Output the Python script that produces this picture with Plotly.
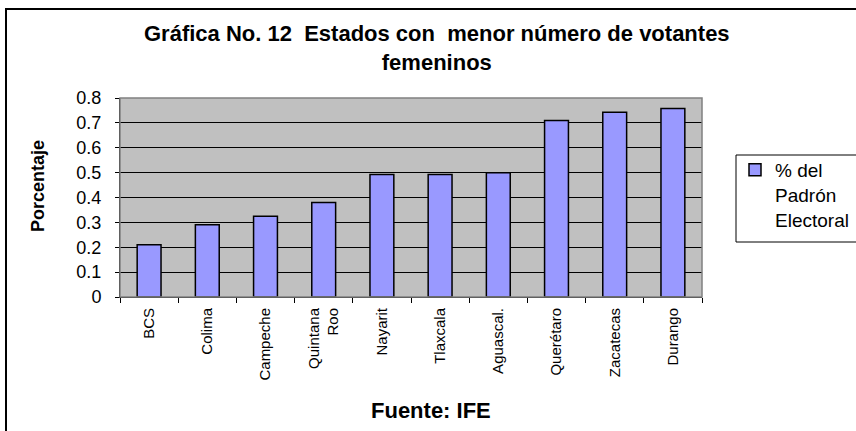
import plotly.graph_objects as go

categories = ["BCS", "Colima", "Campeche", "Quintana<br>Roo", "Nayarit", "Tlaxcala",
              "Aguascal.", "Querétaro", "Zacatecas", "Durango"]
values = [0.21, 0.29, 0.325, 0.38, 0.492, 0.492, 0.50, 0.71, 0.743, 0.758]
series_name = "% del<br>Padrón<br>Electoral"
y_ticks = [0, 0.1, 0.2, 0.3, 0.4, 0.5, 0.6, 0.7, 0.8]

W, H = 856, 431
L, R, T, B = 120, 702, 98, 297


def px(x):
    return (x - L) / (R - L)


def py(y):
    return (B - y) / (B - T)


FONT = "Arial, Liberation Sans, sans-serif"

fig = go.Figure()
fig.add_trace(go.Bar(
    x=categories, y=values, name=series_name,
    marker=dict(color="#9999FF", line=dict(color="#000000", width=1.5)),
    showlegend=True,
))

fig.update_layout(
    width=W, height=H,
    margin=dict(l=L, r=W - R, t=T, b=H - B, pad=0, autoexpand=False),
    paper_bgcolor="white",
    plot_bgcolor="#C0C0C0",
    bargap=0.59,
    font=dict(family=FONT, color="black"),
    showlegend=True,
    legend=dict(x=px(735), y=py(151), xanchor="left", yanchor="top",
                bgcolor="rgba(0,0,0,0)", borderwidth=0,
                font=dict(size=19, family=FONT), valign="top",
                itemwidth=30, tracegroupgap=0),
    xaxis=dict(type="category", showline=True, linecolor="black", linewidth=1,
               ticks="outside", ticklen=5, tickcolor="black", tickson="boundaries",
               tickangle=-90, tickfont=dict(size=15, family=FONT),
               ticklabelstandoff=4,
               showgrid=False, fixedrange=True),
    yaxis=dict(range=[0, 0.8], tickvals=y_ticks, showline=True, linecolor="black",
               linewidth=1, ticks="outside", ticklen=4, tickcolor="black",
               tickfont=dict(size=18, family=FONT), showgrid=True,
               ticklabelstandoff=10,
               gridcolor="#000000", gridwidth=1, zeroline=False, fixedrange=True),
    shapes=[
        # plot frame (top/right gray)
        dict(type="rect", xref="paper", yref="paper", x0=0, x1=1, y0=0, y1=1,
             line=dict(color="#808080", width=1.5), layer="above"),
        # outer chart border
        dict(type="rect", xref="paper", yref="paper", x0=px(6), x1=px(900),
             y0=py(470), y1=py(9), line=dict(color="#000000", width=2)),
        # legend border
        dict(type="rect", xref="paper", yref="paper", x0=px(736), x1=px(880),
             y0=py(242), y1=py(155), line=dict(color="#000000", width=1)),
    ],
    annotations=[
        dict(text="<b>Gráfica No. 12  Estados con  menor número de votantes<br>femeninos</b>",
             xref="paper", yref="paper", x=px(436.5), y=py(48), xanchor="center",
             yanchor="middle", showarrow=False, font=dict(size=22, family=FONT)),
        dict(text="<b>Porcentaje</b>", xref="paper", yref="paper", x=px(38), y=py(186),
             xanchor="center", yanchor="middle", textangle=-90, showarrow=False,
             font=dict(size=18, family=FONT)),
        dict(text="<b>Fuente: IFE</b>", xref="paper", yref="paper", x=px(431), y=py(410),
             xanchor="center", yanchor="middle", showarrow=False,
             font=dict(size=22, family=FONT)),
    ],
)

fig.write_html("out.html", config={"displayModeBar": False},
               post_script="document.body.style.margin='0';document.body.style.overflow='hidden';")
